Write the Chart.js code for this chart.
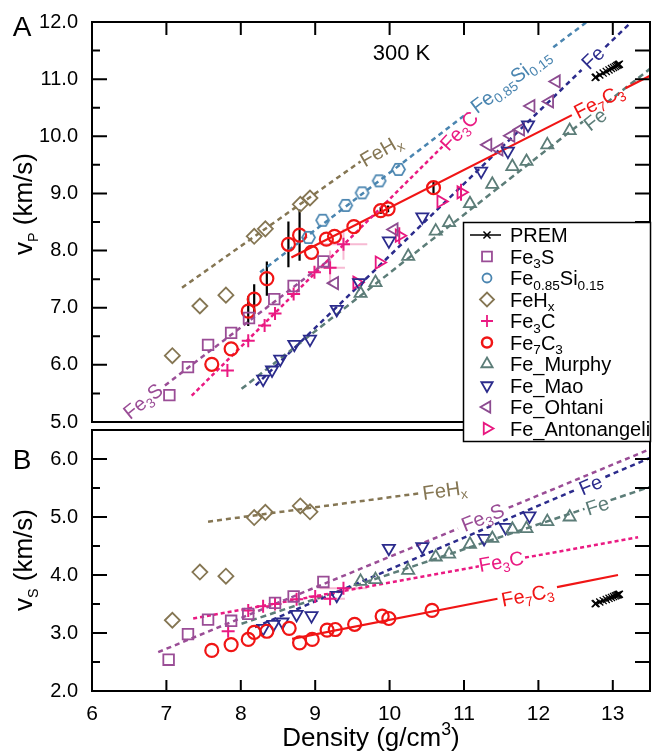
<!DOCTYPE html>
<html>
<head>
<meta charset="utf-8">
<script src="https://cdn.jsdelivr.net/npm/chart.js@4.4.1/dist/chart.umd.min.js"></script>
<style>
  html, body { margin: 0; padding: 0; background: #fff; }
  #wrap { position: relative; width: 653px; height: 752px; }
  #cP { position: absolute; left: 0; top: 0; z-index: 2; }
  #cS { position: absolute; left: 0; top: 424px; z-index: 1; }
</style>
</head>
<body>
<div id="wrap">
  <canvas id="cP" width="653" height="445"></canvas>
  <canvas id="cS" width="653" height="328"></canvas>
</div>
<script>
var FONT = "'Liberation Sans', Arial, Helvetica, sans-serif";
Chart.defaults.font.family = FONT;
Chart.defaults.color = '#000';

var densityTicks = [6, 7, 8, 9, 10, 11, 12, 13];

// ---- PREM inner core ----
var premRho = [13.0885, 13.0798, 13.0689, 13.0537, 13.0341, 13.0101, 12.9818, 12.9492, 12.9121, 12.8708, 12.8250, 12.7749, 12.7636];
var premVp  = [11.2622, 11.2559, 11.2481, 11.2371, 11.2230, 11.2058, 11.1854, 11.1619, 11.1352, 11.1054, 11.0725, 11.0364, 11.0283];
var premVs  = [3.6678, 3.6634, 3.6579, 3.6503, 3.6404, 3.6284, 3.6141, 3.5977, 3.5790, 3.5582, 3.5352, 3.5100, 3.5043];

// ---- Fe3S ----
var fe3sRhoP = [7.04, 7.29, 7.56, 7.87, 8.11, 8.45, 8.71, 9.11];
var fe3sVp   = [5.47, 5.96, 6.35, 6.56, 6.82, 7.15, 7.38, 7.81];
var fe3sRhoS = [7.03, 7.29, 7.56, 7.87, 8.10, 8.46, 8.71, 9.11];
var fe3sVs   = [2.54, 2.98, 3.23, 3.21, 3.33, 3.52, 3.63, 3.88];

// ---- Fe0.85Si0.15 ----
var fesiRho = [8.91, 9.10, 9.41, 9.63, 9.86, 10.12];
var fesiVp  = [8.23, 8.53, 8.79, 9.01, 9.22, 9.42];

// ---- FeHx ----
var fehRho = [7.08, 7.45, 7.80, 8.18, 8.33, 8.80, 8.93];
var fehVp  = [6.16, 7.03, 7.22, 8.25, 8.38, 8.81, 8.92];
var fehVs  = [3.22, 4.05, 3.98, 4.99, 5.08, 5.19, 5.09];

// ---- Fe3C ----
var fe3cRhoP = [7.82, 8.10, 8.32, 8.46, 8.71, 8.99, 9.20, 9.38];
var fe3cVp   = [5.90, 6.42, 6.69, 6.90, 7.24, 7.62, 7.70, 8.11];
var fe3cRhoS = [7.83, 8.10, 8.30, 8.46, 8.75, 9.00, 9.20, 9.38];
var fe3cVs   = [3.03, 3.39, 3.46, 3.50, 3.58, 3.63, 3.59, 3.77];
var fe3cErrRho = [0, 0, 0, 0, 0, 0, 0.20, 0.32];
var fe3cErrVp  = [0, 0, 0, 0, 0, 0, 0.30, 0.27];

// ---- Fe7C3 ----
var fe7c3RhoP = [7.61, 7.87, 8.10, 8.18, 8.35, 8.64, 8.79, 8.95, 9.15, 9.26, 9.52, 9.88, 9.98, 10.59];
var fe7c3Vp   = [6.01, 6.28, 6.94, 7.15, 7.51, 8.11, 8.27, 7.97, 8.20, 8.25, 8.42, 8.70, 8.73, 9.10];
var fe7c3ErrVp = [0, 0, 0.26, 0.26, 0.30, 0.40, 0.45, 0, 0, 0, 0, 0.06, 0.06, 0.10];
var fe7c3RhoS = [7.61, 7.87, 8.10, 8.18, 8.35, 8.65, 8.79, 8.96, 9.16, 9.27, 9.53, 9.90, 9.99, 10.57];
var fe7c3Vs   = [2.70, 2.80, 2.89, 3.01, 3.03, 3.08, 2.83, 2.89, 3.05, 3.06, 3.15, 3.29, 3.25, 3.39];

// ---- Fe (Murphy) ----
var murphyRho = [9.61, 9.81, 10.25, 10.62, 10.80, 11.08, 11.38, 11.65, 11.84, 12.12, 12.42];
var murphyVp  = [7.25, 7.44, 7.90, 8.34, 8.49, 8.82, 9.16, 9.47, 9.56, 9.85, 10.10];
var murphyVs  = [3.89, 3.92, 4.08, 4.31, 4.36, 4.53, 4.63, 4.79, 4.80, 4.92, 5.00];

// ---- Fe (Mao) ----
var maoRhoP = [8.30, 8.42, 8.53, 8.72, 8.93, 9.29, 9.59, 9.99, 10.44, 11.23, 11.59, 11.86];
var maoVp   = [5.75, 5.91, 6.10, 6.36, 6.45, 6.97, 7.44, 8.17, 8.59, 9.39, 9.74, 10.20];
var maoRhoS = [8.30, 8.44, 8.56, 8.75, 8.95, 9.29, 9.99, 10.44, 11.27, 11.56, 11.88];
var maoVs   = [3.08, 3.15, 3.19, 3.32, 3.30, 3.65, 4.46, 4.49, 4.63, 4.82, 5.02];

// ---- Fe (Ohtani), Fe (Antonangeli) ----
var ohtaniRho = [9.26, 10.06, 11.32, 11.47, 11.63, 11.76, 11.90, 12.15, 12.24];
var ohtaniVp  = [7.43, 8.37, 9.85, 9.77, 10.01, 10.12, 10.53, 10.61, 10.96];
var antonRho = [9.56, 9.86, 10.13, 10.69, 10.96];
var antonVp  = [7.44, 7.79, 8.26, 8.86, 9.02];
var antonErrVp = [0, 0, 0.15, 0, 0.15];

// ---- fit lines (end points, null = gap for the label) ----
var fitFehP    = [[7.21, 7.35], [9.61, 9.56]];
var fitFesiP   = [[8.26, 7.62], [11.05, 10.41], null, [12.20, 11.56], [12.65, 12.0]];
var fitFe3cP   = [[7.34, 5.46], [10.71, 9.82]];
var fitFe3sP   = [[6.98, 5.64], [9.20, 7.85]];
var fitFe7c3P  = [[8.68, 7.88], [12.45, 10.37], null, [13.17, 10.84], [13.5, 11.06]];
var fitMurphyP = [[8.01, 5.58], [12.60, 10.26], null, [12.92, 10.59], [13.5, 11.18]];
var fitMaoP    = [[8.20, 5.64], [12.58, 11.16], null, [12.90, 11.56], [13.25, 12.0]];

var fitFehS    = [[7.56, 4.92], [10.41, 5.41]];
var fitFe3sS   = [[6.89, 2.67], [10.92, 4.80], null, [11.60, 5.16], [13.5, 6.17]];
var fitFe3cS   = [[7.36, 3.25], [11.20, 4.15], null, [11.82, 4.30], [13.34, 4.65]];
var fitMaoS    = [[8.19, 3.10], [12.52, 5.48], null, [12.90, 5.69], [13.5, 6.02]];
var fitMurphyS = [[8.01, 3.16], [12.62, 5.14], null, [12.97, 5.29], [13.5, 5.52]];
var fitFe7c3S  = [[8.69, 2.90], [11.45, 3.59], null, [12.25, 3.79], [13.07, 4.00]];

var C = {
  fe3s: '#9a4d96', fesi: '#4a85b0', feh: '#857653', fe3c: '#ea1a82', fe7c3: '#f01515',
  murphy: '#5c7d78', mao: '#2b2b8c', ohtani: '#8c4b90', anton: '#e8177f'
};

// ---- helpers ----
function pts(xs, ys) { return xs.map(function (x, i) { return { x: x, y: ys[i] }; }); }
function seg(list) {
  var out = [];
  list.forEach(function (p) {
    if (p) out.push({ x: p[0], y: p[1] });
    else out.push({ x: out[out.length - 1].x, y: null });
  });
  return out;
}
function hexagon(color) {
  var c = document.createElement('canvas'); c.width = 17; c.height = 17;
  var g = c.getContext('2d'); g.strokeStyle = color; g.lineWidth = 1.7;
  g.beginPath();
  for (var i = 0; i < 6; i++) {
    var a = Math.PI / 3 * i, px = 8.5 + 6.5 * Math.cos(a), py = 8.5 + 6.5 * Math.sin(a);
    if (i) g.lineTo(px, py); else g.moveTo(px, py);
  }
  g.closePath(); g.stroke();
  return c;
}
var hexImg = hexagon(C.fesi);

function mk(label, data, color, style, r, extra) {
  return Object.assign({
    label: label, data: data, order: 1, showLine: false,
    pointStyle: style, pointRadius: r, pointHoverRadius: r,
    borderColor: color, backgroundColor: 'rgba(0,0,0,0)',
    pointBorderColor: color, pointBackgroundColor: 'rgba(0,0,0,0)', pointBorderWidth: 1.8
  }, extra || {});
}
function fit(list, color, dash, width) {
  return {
    data: seg(list), order: 2, showLine: true, spanGaps: false,
    borderColor: color, borderWidth: width || 2.4, borderDash: dash,
    pointRadius: 0, pointHoverRadius: 0, fill: false
  };
}
function prem(ys) {
  return {
    label: 'PREM', data: pts(premRho, ys), order: 0, showLine: true,
    borderColor: '#000', borderWidth: 1.5, pointStyle: 'crossRot', pointRadius: 5,
    pointBorderColor: '#000', pointBorderWidth: 1.3
  };
}

// rich text: _{..} subscript, ^{..} superscript
function parseRich(s) {
  var parts = [], re = /([_^])\{([^}]*)\}/g, last = 0, m;
  while ((m = re.exec(s))) {
    if (m.index > last) parts.push([s.slice(last, m.index), 0]);
    parts.push([m[2], m[1] === '_' ? 1 : 2]);
    last = re.lastIndex;
  }
  if (last < s.length) parts.push([s.slice(last), 0]);
  return parts;
}
function drawRich(ctx, s, x, y, size, color, angle, align, subScale) {
  var parts = parseRich(s), ss = size * (subScale || 0.68), w = 0;
  ctx.save();
  ctx.translate(x, y);
  ctx.rotate((angle || 0) * Math.PI / 180);
  ctx.fillStyle = color;
  ctx.textBaseline = 'alphabetic';
  ctx.textAlign = 'left';
  parts.forEach(function (p) { ctx.font = (p[1] ? ss : size) + 'px ' + FONT; w += ctx.measureText(p[0]).width; });
  var cx = align === 'left' ? 0 : align === 'right' ? -w : -w / 2;
  var base = size * 0.36;
  parts.forEach(function (p) {
    ctx.font = (p[1] ? ss : size) + 'px ' + FONT;
    var dy = p[1] === 1 ? size * 0.22 : p[1] === 2 ? -size * 0.42 : 0;
    ctx.fillText(p[0], cx, base + dy);
    cx += ctx.measureText(p[0]).width;
  });
  ctx.restore();
}

function drawFrame(chart, xSide, xLen) {
  var ctx = chart.ctx, a = chart.chartArea, x = chart.scales.x, y = chart.scales.y, v, p;
  ctx.save();
  ctx.strokeStyle = '#000'; ctx.lineWidth = 2;
  ctx.strokeRect(a.left, a.top, a.right - a.left, a.bottom - a.top);
  ctx.beginPath();
  for (v = y.min + 0.5; v < y.max - 0.01; v += 0.5) {
    p = y.getPixelForValue(v);
    ctx.moveTo(a.left, p); ctx.lineTo(a.left + (Number.isInteger(v) ? 15 : 8), p);
    ctx.moveTo(a.right, p); ctx.lineTo(a.right - 15, p);
  }
  for (v = Math.floor(x.min) + 1; v < x.max; v++) {
    p = x.getPixelForValue(v);
    if (xSide === 'top') { ctx.moveTo(p, a.top); ctx.lineTo(p, a.top + xLen); }
    else { ctx.moveTo(p, a.bottom); ctx.lineTo(p, a.bottom - xLen); }
  }
  ctx.stroke();
  ctx.restore();
}

function drawErrors(chart) {
  var ctx = chart.ctx, x = chart.scales.x, y = chart.scales.y;
  chart.data.datasets.forEach(function (ds) {
    if (!ds.errY && !ds.errX) return;
    ctx.save();
    ctx.strokeStyle = ds.errColor; ctx.lineWidth = ds.errWidth || 2;
    ctx.beginPath();
    ds.data.forEach(function (d, i) {
      var ey = ds.errY ? ds.errY[i] : 0, ex = ds.errX ? ds.errX[i] : 0;
      if (ey) {
        ctx.moveTo(x.getPixelForValue(d.x), y.getPixelForValue(d.y - ey));
        ctx.lineTo(x.getPixelForValue(d.x), y.getPixelForValue(d.y + ey));
      }
      if (ex) {
        ctx.moveTo(x.getPixelForValue(d.x - ex), y.getPixelForValue(d.y));
        ctx.lineTo(x.getPixelForValue(d.x + ex), y.getPixelForValue(d.y));
      }
    });
    ctx.stroke();
    ctx.restore();
  });
}

function drawLabels(chart, list) {
  var x = chart.scales.x, y = chart.scales.y;
  list.forEach(function (l) {
    drawRich(chart.ctx, l.t, x.getPixelForValue(l.x), y.getPixelForValue(l.y), l.size || 20, l.c, l.a, 'center');
  });
}

var labelsP = [
  { t: 'FeH_{x}', x: 9.88, y: 9.76, a: -30, c: C.feh },
  { t: 'Fe_{0.85}Si_{0.15}', x: 11.62, y: 10.98, a: -37, c: C.fesi },
  { t: 'Fe_{3}C', x: 10.93, y: 10.10, a: -47, c: C.fe3c },
  { t: 'Fe', x: 12.73, y: 11.38, a: -44, c: C.mao },
  { t: 'Fe_{7}C_{3}', x: 12.81, y: 10.62, a: -27, c: C.fe7c3 },
  { t: 'Fe', x: 12.76, y: 10.30, a: -38, c: C.murphy },
  { t: 'Fe_{3}S', x: 6.68, y: 5.37, a: -39, c: C.fe3s },
  { t: '300 K', x: 10.16, y: 11.47, a: 0, c: '#000', size: 22 }
];
var labelsS = [
  { t: 'FeH_{x}', x: 10.74, y: 5.47, a: -8, c: C.feh },
  { t: 'Fe_{3}S', x: 11.25, y: 5.00, a: -22, c: C.fe3s },
  { t: 'Fe', x: 12.70, y: 5.56, a: -23, c: C.mao },
  { t: 'Fe', x: 12.79, y: 5.20, a: -18, c: C.murphy },
  { t: 'Fe_{3}C', x: 11.50, y: 4.24, a: -10, c: C.fe3c },
  { t: 'Fe_{7}C_{3}', x: 11.85, y: 3.66, a: -11, c: C.fe7c3 }
];

var legendRows = [
  { t: 'PREM', s: 'crossRot', c: '#000', r: 5, line: true },
  { t: 'Fe_{3}S', s: 'rect', c: C.fe3s, r: 7 },
  { t: 'Fe_{0.85}Si_{0.15}', s: 'circle', c: C.fesi, r: 4.5 },
  { t: 'FeH_{x}', s: 'rectRot', c: C.feh, r: 7 },
  { t: 'Fe_{3}C', s: 'cross', c: C.fe3c, r: 6 },
  { t: 'Fe_{7}C_{3}', s: 'circle', c: C.fe7c3, r: 5, w: 2.5 },
  { t: 'Fe_Murphy', s: 'triangle', c: C.murphy, r: 6.5 },
  { t: 'Fe_Mao', s: 'triangle', c: C.mao, r: 6.5, rot: 180 },
  { t: 'Fe_Ohtani', s: 'triangle', c: C.ohtani, r: 6.5, rot: 270 },
  { t: 'Fe_Antonangeli', s: 'triangle', c: C.anton, r: 6.5, rot: 90 }
];

function drawLegend(ctx) {
  ctx.save();
  ctx.fillStyle = '#fff';
  ctx.fillRect(463, 222, 188, 220);
  ctx.strokeStyle = '#000'; ctx.lineWidth = 1.5;
  ctx.strokeRect(463.5, 222.5, 187, 219);
  legendRows.forEach(function (r, i) {
    var yy = 235 + i * 21.5;
    ctx.strokeStyle = r.c; ctx.fillStyle = 'rgba(0,0,0,0)'; ctx.lineWidth = r.w || 1.8;
    if (r.line) {
      ctx.beginPath(); ctx.moveTo(470, yy); ctx.lineTo(501, yy); ctx.lineWidth = 1.5; ctx.stroke();
    }
    Chart.helpers.drawPoint(ctx, { pointStyle: r.s, radius: r.r, rotation: r.rot || 0, borderWidth: 1 }, 487, yy);
    drawRich(ctx, r.t, 510, yy, 20, '#000', 0, 'left');
  });
  ctx.restore();
}

function yScale(min, max) {
  return {
    type: 'linear', min: min, max: max,
    afterFit: function (s) { s.width = 92; s.paddingTop = 0; s.paddingBottom = 0; },
    grid: { display: false, drawTicks: false }, border: { display: false },
    ticks: {
      stepSize: 0.5, autoSkip: false, padding: 14, color: '#000', font: { size: 20 },
      callback: function (v) { return Number.isInteger(v) ? v.toFixed(1) : ''; }
    }
  };
}

// force the plot area onto the reference frame
function pin(chart, box) {
  for (var k = 0; k < 4; k++) {
    var a = chart.chartArea, p = chart.config.options.layout.padding;
    var dl = box.left - a.left, dr = a.right - box.right, dt = box.top - a.top, db = a.bottom - box.bottom;
    if (Math.abs(dl) + Math.abs(dr) + Math.abs(dt) + Math.abs(db) < 0.5) break;
    p.left += dl; p.right += dr; p.top += dt; p.bottom += db;
    chart.update();
  }
}

// ---- panel A ----
var dsP = [
  prem(premVp),
  mk('Fe3S', pts(fe3sRhoP, fe3sVp), C.fe3s, 'rect', 7.5),
  mk('Fe0.85Si0.15', pts(fesiRho, fesiVp), C.fesi, hexImg, 7),
  mk('FeHx', pts(fehRho, fehVp), C.feh, 'rectRot', 7.5),
  mk('Fe3C', pts(fe3cRhoP, fe3cVp), C.fe3c, 'cross', 6.5,
     { pointBorderWidth: 2, errX: fe3cErrRho, errY: fe3cErrVp, errColor: 'rgba(240,130,175,0.55)', errWidth: 2 }),
  mk('Fe7C3', pts(fe7c3RhoP, fe7c3Vp), C.fe7c3, 'circle', 6.5,
     { pointBorderWidth: 2.2, errY: fe7c3ErrVp, errColor: '#000', errWidth: 2.2 }),
  mk('Fe_Murphy', pts(murphyRho, murphyVp), C.murphy, 'triangle', 7),
  mk('Fe_Mao', pts(maoRhoP, maoVp), C.mao, 'triangle', 7, { pointRotation: 180 }),
  mk('Fe_Ohtani', pts(ohtaniRho, ohtaniVp), C.ohtani, 'triangle', 7, { pointRotation: 270 }),
  mk('Fe_Antonangeli', pts(antonRho, antonVp), C.anton, 'triangle', 7,
     { pointRotation: 90, errY: antonErrVp, errColor: C.anton, errWidth: 2 }),
  fit(fitFehP, C.feh, [5, 4], 2.5),
  fit(fitFesiP, C.fesi, [5, 4], 2.5),
  fit(fitFe3cP, C.fe3c, [4, 3], 2.5),
  fit(fitFe3sP, C.fe3s, [5, 4], 2.5),
  fit(fitFe7c3P, C.fe7c3, [], 2.2),
  fit(fitMurphyP, C.murphy, [6, 4], 2.5),
  fit(fitMaoP, C.mao, [5, 4], 2.5)
];

var chartP = new Chart(document.getElementById('cP'), {
  type: 'scatter',
  data: { datasets: dsP },
  options: {
    responsive: false, animation: false, events: [], devicePixelRatio: 1,
    layout: { autoPadding: false, padding: { left: 0, right: 3, top: 22, bottom: 23 } },
    plugins: { legend: { display: false }, tooltip: { enabled: false } },
    scales: {
      x: {
        type: 'linear', min: 6, max: 13.5,
        afterFit: function (s) { s.height = 0; s.paddingLeft = 0; s.paddingRight = 0; },
        grid: { display: false, drawTicks: false }, border: { display: false },
        ticks: { display: false }
      },
      y: yScale(5, 12)
    }
  },
  plugins: [{
    id: 'panelA',
    beforeDatasetsDraw: function (chart) { drawErrors(chart); },
    afterDatasetsDraw: function (chart) { drawLabels(chart, labelsP); },
    afterDraw: function (chart) {
      drawFrame(chart, 'top', 13);
      drawRich(chart.ctx, 'A', 22, 26, 28, '#000', 0, 'center');
      drawRich(chart.ctx, 'v_{P} (km/s)', 23, 204, 26, '#000', -90, 'center', 0.55);
      drawLegend(chart.ctx);
    }
  }]
});
pin(chartP, { left: 92, right: 650, top: 22, bottom: 422 });

// ---- panel B ----
var dsS = [
  prem(premVs),
  mk('Fe3S', pts(fe3sRhoS, fe3sVs), C.fe3s, 'rect', 7.5),
  mk('FeHx', pts(fehRho, fehVs), C.feh, 'rectRot', 7.5),
  mk('Fe3C', pts(fe3cRhoS, fe3cVs), C.fe3c, 'cross', 6.5,
     { pointBorderWidth: 2, errX: fe3cErrRho, errColor: 'rgba(240,130,175,0.55)', errWidth: 2 }),
  mk('Fe7C3', pts(fe7c3RhoS, fe7c3Vs), C.fe7c3, 'circle', 6.5, { pointBorderWidth: 2.2 }),
  mk('Fe_Murphy', pts(murphyRho, murphyVs), C.murphy, 'triangle', 7),
  mk('Fe_Mao', pts(maoRhoS, maoVs), C.mao, 'triangle', 7, { pointRotation: 180 }),
  fit(fitFehS, C.feh, [5, 4], 2.5),
  fit(fitFe3sS, C.fe3s, [5, 4], 2.5),
  fit(fitFe3cS, C.fe3c, [4, 3], 2.5),
  fit(fitMaoS, C.mao, [5, 4], 2.5),
  fit(fitMurphyS, C.murphy, [6, 4], 2.5),
  fit(fitFe7c3S, C.fe7c3, [], 2.2)
];

var chartS = new Chart(document.getElementById('cS'), {
  type: 'scatter',
  data: { datasets: dsS },
  options: {
    responsive: false, animation: false, events: [], devicePixelRatio: 1,
    layout: { autoPadding: false, padding: { left: 0, right: 3, top: 6, bottom: 0 } },
    plugins: { legend: { display: false }, tooltip: { enabled: false } },
    scales: {
      x: {
        type: 'linear', min: 6, max: 13.5,
        afterBuildTicks: function (s) { s.ticks = densityTicks.map(function (v) { return { value: v }; }); },
        afterFit: function (s) { s.height = 61; s.paddingLeft = 0; s.paddingRight = 0; },
        grid: { display: false, drawTicks: false }, border: { display: false },
        ticks: {
          autoSkip: false, maxRotation: 0, padding: 11, color: '#000', font: { size: 21 },
          callback: function (v) { return String(v); }
        }
      },
      y: yScale(2, 6.5)
    }
  },
  plugins: [{
    id: 'panelB',
    beforeDatasetsDraw: function (chart) { drawErrors(chart); },
    afterDatasetsDraw: function (chart) { drawLabels(chart, labelsS); },
    afterDraw: function (chart) {
      drawFrame(chart, 'bottom', 11);
      drawRich(chart.ctx, 'B', 22, 35, 28, '#000', 0, 'center');
      drawRich(chart.ctx, 'v_{S} (km/s)', 23, 136, 26, '#000', -90, 'center', 0.55);
      drawRich(chart.ctx, 'Density (g/cm^{3})', 371, 313, 26, '#000', 0, 'center');
    }
  }]
});
pin(chartS, { left: 92, right: 650, top: 6, bottom: 267 });
</script>
</body>
</html>
